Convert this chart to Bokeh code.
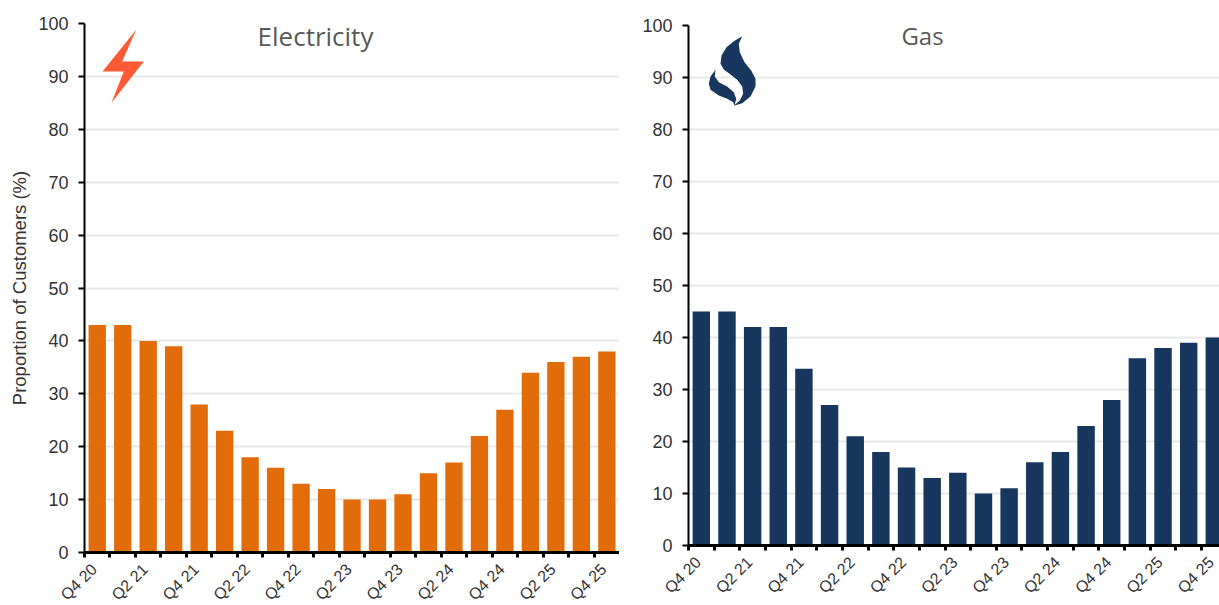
from bokeh.plotting import figure
from bokeh.layouts import row
from bokeh.models import FixedTicker, Label, Range1d
from bokeh.embed import file_html
from bokeh.resources import INLINE

quarters = ["Q4 20", "Q1 21", "Q2 21", "Q3 21", "Q4 21", "Q1 22", "Q2 22", "Q3 22", "Q4 22", "Q1 23", "Q2 23",
            "Q3 23", "Q4 23", "Q1 24", "Q2 24", "Q3 24", "Q4 24", "Q1 25", "Q2 25", "Q3 25", "Q4 25"]
electricity = [43, 43, 40, 39, 28, 23, 18, 16, 13, 12, 10, 10, 11, 15, 17, 22, 27, 34, 36, 37, 38]
gas = [45, 45, 42, 42, 34, 27, 21, 18, 15, 13, 14, 10, 11, 16, 18, 23, 28, 36, 38, 39, 40]
y_ticks = list(range(0, 101, 10))

# Decorative icons, traced in reference pixels (x, y from the page corner)
bolt_icon = [(135.7, 29.3), (121.7, 61), (143.3, 61), (111, 102.3), (123.3, 71), (102, 71)]
flame_main = [(741.7, 35.7), (733.3, 40.7), (726, 46.7), (721, 55), (720, 63.3), (723.3, 69), (730, 74), (736.7, 79.3),
              (741.7, 86), (742.7, 93.3), (739.3, 100), (733.3, 105.3), (741.7, 102.7), (750, 96), (755, 86),
              (755, 78.3), (750.7, 70), (744, 61.7), (739.3, 51.7), (738.3, 43.3)]
flame_low = [(715, 69.3), (710, 76), (708.3, 83.3), (710, 89.3), (718.3, 95), (726.7, 98.3), (732.7, 101.7),
             (734, 105.3), (735.7, 98.3), (733.3, 91.7), (726.7, 86), (718.3, 81.7), (714.3, 76)]

FONT = "Liberation Sans"
HEIGHT = 605


def panel(values, color, width, left, top, bottom, step, title, title_x, title_size):
    frame_w = width - left
    p = figure(width=width, height=HEIGHT, output_backend="svg", toolbar_location=None,
               x_range=Range1d(0, frame_w / step), y_range=Range1d(0, 100),
               frame_width=frame_w, frame_height=HEIGHT - top - bottom,
               min_border_left=left, min_border_right=0, min_border_top=top, min_border_bottom=bottom)
    p.frame_align = False
    p.outline_line_color = None
    p.xgrid.visible = False
    p.ygrid.grid_line_color = "#E9E9E9"
    p.ygrid.grid_line_width = 2
    p.ygrid.ticker = FixedTicker(ticks=y_ticks)

    centers = [i + 0.5 for i in range(len(quarters))]
    p.vbar(x=centers, top=values, width=0.68, color=color, line_color=None)

    # Label anchors sit a little left of each bar centre, as in the reference
    label_pos = [round(c - 0.12, 2) for c in centers]
    xa = p.xaxis[0]
    xa.ticker = FixedTicker(ticks=label_pos[::2], minor_ticks=list(range(len(quarters) + 1)))
    xa.major_label_overrides = {c: quarters[i] for i, c in enumerate(label_pos) if i % 2 == 0}
    xa.major_label_orientation = 0.785
    xa.major_label_text_font = FONT
    xa.major_label_text_font_size = "16px"
    xa.major_label_text_color = "#333333"
    xa.major_label_standoff = 8
    xa.major_tick_line_color = None
    xa.minor_tick_line_color = "#000000"
    xa.minor_tick_line_width = 3
    xa.minor_tick_out = 5
    xa.minor_tick_in = 0
    xa.axis_line_color = "#000000"
    xa.axis_line_width = 3

    ya = p.yaxis[0]
    ya.ticker = FixedTicker(ticks=y_ticks)
    ya.major_label_text_font = FONT
    ya.major_label_text_font_size = "18px"
    ya.major_label_text_color = "#333333"
    ya.major_label_standoff = 10
    ya.major_tick_line_color = "#000000"
    ya.major_tick_line_width = 2
    ya.major_tick_out = 6
    ya.major_tick_in = 0
    ya.minor_tick_line_color = None
    ya.axis_line_color = "#000000"
    ya.axis_line_width = 2

    p.add_layout(Label(x=title_x, y=(HEIGHT - top - bottom) + top - 35, x_units="screen", y_units="screen",
                       text=title, text_font="Open Sans", text_font_size=title_size, text_color="#595959",
                       text_align="center", text_baseline="middle"))
    return p


def to_data(points, x0, y0, step, unit_h):
    return [(x - x0) / step for x, _ in points], [100 - (y - y0) / unit_h for _, y in points]


p1 = panel(electricity, "#E36C0A", 619, 84, 23, 53, 25.48, "Electricity", 315 - 84, "26px")
p1.yaxis[0].axis_label = "Proportion of Customers (%)"
p1.yaxis[0].axis_label_text_font = FONT
p1.yaxis[0].axis_label_text_font_size = "18.5px"
p1.yaxis[0].axis_label_text_font_style = "normal"
p1.yaxis[0].axis_label_text_color = "#333333"
p1.yaxis[0].axis_label_standoff = 5
bx, by = to_data(bolt_icon, 84, 23, 25.48, 5.29)
p1.patch(bx, by, color="#FF5A36", line_color=None)

p2 = panel(gas, "#17375E", 600, 69, 25, 60, 25.65, "Gas", 922 - 688, "24px")
for pts in (flame_main, flame_low):
    fx, fy = to_data(pts, 688, 25, 25.65, 5.20)
    p2.patch(fx, fy, color="#17375E", line_color=None)

layout = row(p1, p2, spacing=0)
open("out.html", "w").write(file_html(layout, INLINE))
